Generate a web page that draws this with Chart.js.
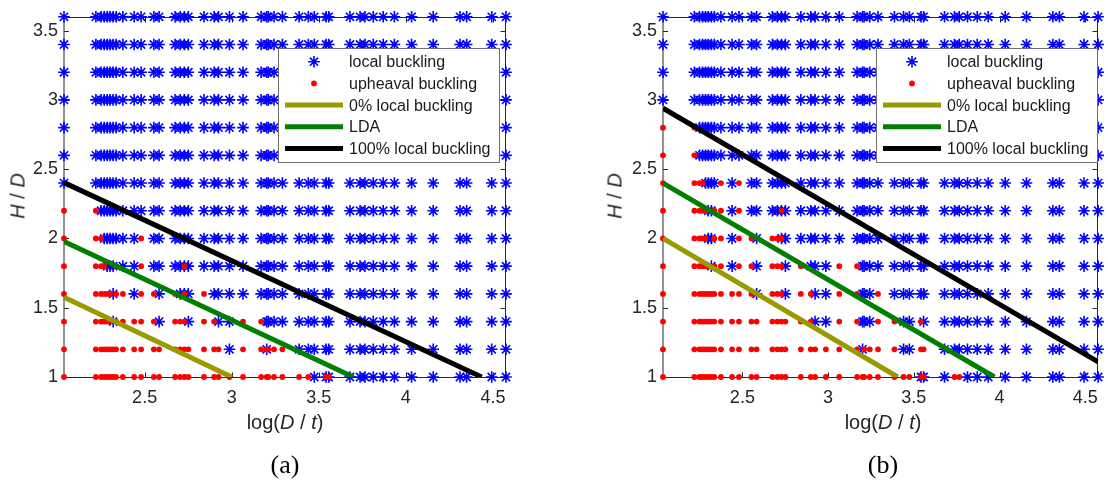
<!DOCTYPE html>
<html>
<head>
<meta charset="utf-8">
<script src="https://cdn.jsdelivr.net/npm/chart.js@4.4.1/dist/chart.umd.min.js"></script>
<style>
  html, body { margin: 0; padding: 0; background: #fff; }
  #wrap { position: relative; width: 1108px; height: 486px; overflow: hidden;
          font-family: "Liberation Sans", Arial, sans-serif; color: #262626; }
  canvas { position: absolute; top: 0; }
  #cA { left: 0; }
  #cB { left: 554px; }
  .ytitle { position: absolute; font-size: 20px; white-space: nowrap; transform: translate(-50%, -50%) rotate(-90deg); }
  .xtitle { position: absolute; font-size: 20px; white-space: nowrap; transform: translate(-50%, -50%); }
  .cap { position: absolute; font-family: "Liberation Serif", "Times New Roman", serif; font-size: 26px;
         color: #000; white-space: nowrap; transform: translate(-50%, -50%); }
</style>
</head>
<body>
<div id="wrap">
  <canvas id="cA" width="554" height="486"></canvas>
  <canvas id="cB" width="554" height="486"></canvas>
  <div class="ytitle" style="left:18px; top:196px;"><i>H</i> / <i>D</i></div>
  <div class="ytitle" style="left:615px; top:196px;"><i>H</i> / <i>D</i></div>
  <div class="xtitle" style="left:285px; top:422px;">log(<i>D</i> / <i>t</i>)</div>
  <div class="xtitle" style="left:883px; top:422px;">log(<i>D</i> / <i>t</i>)</div>
  <div class="cap" style="left:285px; top:465px;">(a)</div>
  <div class="cap" style="left:883px; top:465px;">(b)</div>
</div>
<script>
// log(D/t) of every case column (same set in both panels)
const xCols = [2.037, 2.220, 2.250, 2.268, 2.285, 2.301, 2.319, 2.336, 2.375, 2.440, 2.480,
               2.553, 2.583, 2.675, 2.704, 2.728, 2.751, 2.841, 2.899, 2.924, 2.987, 3.065,
               3.169, 3.201, 3.210, 3.243, 3.291, 3.387, 3.440, 3.474, 3.542, 3.557, 3.679,
               3.737, 3.765, 3.813, 3.870, 3.934, 4.033, 4.157, 4.311, 4.349, 4.493, 4.575];
// H/D levels, bottom to top
const hdLevels = [1.0, 1.2, 1.4, 1.6, 1.8, 2.0, 2.2, 2.4, 2.6, 2.8, 3.0, 3.2, 3.4, 3.6];

// failure mode per column: b = local buckling, r = upheaval buckling, x = both
// (columns grouped 11 at a time)
const modesA = [
  ["rrrrrrrrrrr", "rrrrrrrrrrr", "rrrrrrrbxxb", "bbbbbbbbbbb"], // 1.0
  ["rrrrrrrrrrr", "rrrrrrrrrbr", "rxrrrbbbbbb", "bbbbbbbbbbb"], // 1.2
  ["rrrrrrbrrrr", "rbrrrbrrbbr", "rbbbbbbbbbb", "bbbbbbbbbbb"], // 1.4
  ["rrrrrrbrrbr", "rbrbxbrbbbb", "bbbbbbbbbbb", "bbbbbbbbbbb"], // 1.6
  ["rrrrbbbrbbr", "bbbbxbbbbbb", "bbbbbbbbbbb", "bbbbbbbbbbb"], // 1.8
  ["rrrbbbbbbbr", "bbbbbbbbbbb", "bbbbbbbbbbb", "bbbbbbbbbbb"], // 2.0
  ["rrbbbbbbbbb", "bbbbbbbbbbb", "bbbbbbbbbbb", "bbbbbbbbbbb"], // 2.2
  ["bbbbbbbbbbb", "bbbbbbbbbbb", "bbbbbbbbbbb", "bbbbbbbbbbb"], // 2.4
  ["bbbbbbbbbbb", "bbbbbbbbbbb", "bbbbbbbbbbb", "bbbbbbbbbbb"], // 2.6
  ["bbbbbbbbbbb", "bbbbbbbbbbb", "bbbbbbbbbbb", "bbbbbbbbbbb"], // 2.8
  ["bbbbbbbbbbb", "bbbbbbbbbbb", "bbbbbbbbbbb", "bbbbbbbbbbb"], // 3.0
  ["bbbbbbbbbbb", "bbbbbbbbbbb", "bbbbbbbbbbb", "bbbbbbbbbbb"], // 3.2
  ["bbbbbbbbbbb", "bbbbbbbbbbb", "bbbbbbbbbbb", "bbbbbbbbbbb"], // 3.4
  ["bbbbbbbbbbb", "bbbbbbbbbbb", "bbbbbbbbbbb", "bbbbbbbbbbb"]  // 3.6
];
const modesB = [
  ["rrrrrrrrrrr", "rrrrrrrrrrr", "rrrrrrrrxxb", "rrbbbbbbbbb"], // 1.0
  ["rrrrrrrrrrr", "rrrrrrrrrrr", "rbrrrrbbrrb", "bbbbbbbbbbb"], // 1.2
  ["rrrrrrrrrrr", "rrrrrrrrbbr", "rbbbrrbbrbb", "bbbbbbbbbbb"], // 1.4
  ["rrrrrrrrrrr", "rbrrrbrrbbr", "rbbbrbbbbbb", "bbbbbbbbbbb"], // 1.6
  ["rrrrrrbrrbr", "rbrrrbrbbbr", "rbbbbbbbbbb", "bbbbbbbbbbb"], // 1.8
  ["rrrrrbbrrbr", "rbrrxbbbbbb", "bbbbbbbbbbb", "bbbbbbbbbbb"], // 2.0
  ["rrrrrbbrrbr", "bbbbxbbbbbb", "bbbbbbbbbbb", "bbbbbbbbbbb"], // 2.2
  ["rrrrbbbbrbr", "bbbbbbbbbbb", "bbbbbbbbbbb", "bbbbbbbbbbb"], // 2.4
  ["rrbbbbbbbbb", "bbbbbbbbbbb", "bbbbbbbbbbb", "bbbbbbbbbbb"], // 2.6
  ["rrbbbbbbbbb", "bbbbbbbbbbb", "bbbbbbbbbbb", "bbbbbbbbbbb"], // 2.8
  ["bbbbbbbbbbb", "bbbbbbbbbbb", "bbbbbbbbbbb", "bbbbbbbbbbb"], // 3.0
  ["bbbbbbbbbbb", "bbbbbbbbbbb", "bbbbbbbbbbb", "bbbbbbbbbbb"], // 3.2
  ["bbbbbbbbbbb", "bbbbbbbbbbb", "bbbbbbbbbbb", "bbbbbbbbbbb"], // 3.4
  ["bbbbbbbbbbb", "bbbbbbbbbbb", "bbbbbbbbbbb", "bbbbbbbbbbb"]  // 3.6
];

// boundary lines (end points)
const zeroLineA = [{x: 2.037, y: 1.576}, {x: 3.000, y: 1.0}];
const ldaLineA  = [{x: 2.037, y: 1.978}, {x: 3.698, y: 1.0}];
const fullLineA = [{x: 2.037, y: 2.403}, {x: 4.435, y: 1.0}];
const zeroLineB = [{x: 2.037, y: 2.000}, {x: 3.406, y: 1.0}];
const ldaLineB  = [{x: 2.037, y: 2.400}, {x: 3.970, y: 1.0}];
const fullLineB = [{x: 2.037, y: 2.940}, {x: 4.575, y: 1.11}];

const seriesLabels = ["local buckling", "upheaval buckling", "0% local buckling", "LDA", "100% local buckling"];
const xTicks = [2.5, 3, 3.5, 4, 4.5];
const yTicks = [1, 1.5, 2, 2.5, 3, 3.5];

const FONT = '"Liberation Sans", Arial, sans-serif';

function splitModes(modes) {
  var local = [], upheaval = [];
  modes.forEach(function (groups, r) {
    var row = groups.join("");
    for (var c = 0; c < row.length; c++) {
      var p = {x: xCols[c], y: hdLevels[r]};
      if (row[c] === "b" || row[c] === "x") local.push(p);
      if (row[c] === "r" || row[c] === "x") upheaval.push(p);
    }
  });
  return {local: local, upheaval: upheaval};
}

// box, inward ticks
var matlabAxes = {
  id: "matlabAxes",
  beforeDatasetsDraw: function (chart) {
    var ctx = chart.ctx, a = chart.chartArea, sx = chart.scales.x, sy = chart.scales.y;
    var L = a.left, R = Math.round(a.right) - 0.5, T = Math.round(a.top) + 0.5, B = Math.round(a.bottom) + 0.5;
    ctx.save();
    ctx.strokeStyle = "#262626";
    ctx.lineWidth = 1;
    ctx.beginPath();
    ctx.moveTo(L, T); ctx.lineTo(R, T); ctx.lineTo(R, B); ctx.lineTo(L, B); ctx.lineTo(L, T);
    xTicks.forEach(function (v) {
      var px = Math.round(sx.getPixelForValue(v)) + 0.5;
      ctx.moveTo(px, B); ctx.lineTo(px, B - 5);
      ctx.moveTo(px, T); ctx.lineTo(px, T + 5);
    });
    yTicks.forEach(function (v) {
      var py = Math.round(sy.getPixelForValue(v)) + 0.5;
      ctx.moveTo(L, py); ctx.lineTo(L + 5, py);
      ctx.moveTo(R, py); ctx.lineTo(R - 5, py);
    });
    ctx.stroke();
    ctx.restore();
  }
};

// legend box drawn inside the axes
var boxLegend = {
  id: "boxLegend",
  afterDatasetsDraw: function (chart, args, opts) {
    var ctx = chart.ctx;
    var bx = opts.x, by = opts.y, bw = opts.w, bh = opts.h;
    ctx.save();
    ctx.fillStyle = "#fff";
    ctx.fillRect(bx, by, bw, bh);
    ctx.strokeStyle = "#6e6e6e";
    ctx.lineWidth = 1;
    ctx.strokeRect(bx + 0.5, by + 0.5, bw, bh);
    chart.data.datasets.forEach(function (ds, i) {
      var cy = by + 13.7 + i * 21.7;
      if (ds.showLine) {
        ctx.strokeStyle = ds.borderColor;
        ctx.lineWidth = 5;
        ctx.beginPath();
        ctx.moveTo(bx + 7, cy); ctx.lineTo(bx + 65, cy);
        ctx.stroke();
      } else {
        ctx.strokeStyle = ds.borderColor;
        ctx.fillStyle = ds.backgroundColor;
        ctx.lineWidth = ds.pointBorderWidth;
        Chart.helpers.drawPoint(ctx, {pointStyle: ds.pointStyle, radius: ds.pointRadius,
          borderWidth: ds.pointBorderWidth, rotation: 0}, bx + 36, cy);
      }
      ctx.fillStyle = "#1a1a1a";
      ctx.font = "16px " + FONT;
      ctx.textAlign = "left";
      ctx.textBaseline = "middle";
      ctx.fillText(ds.label, bx + 71, cy + 1);
    });
    ctx.restore();
  }
};

function makeChart(id, modes, zeroLine, ldaLine, fullLine, yAxisWidth, padRight, legendBox) {
  var pts = splitModes(modes);
  return new Chart(document.getElementById(id).getContext("2d"), {
    type: "scatter",
    data: {
      datasets: [
        {label: seriesLabels[0], data: pts.local, pointStyle: "star", pointRadius: 5.8,
         pointBorderWidth: 1.6, borderColor: "#0000ff", backgroundColor: "#0000ff", order: 3, clip: false},
        {label: seriesLabels[1], data: pts.upheaval, pointStyle: "circle", pointRadius: 2.9,
         pointBorderWidth: 0, borderColor: "#ff0000", backgroundColor: "#ff0000", order: 2, clip: false},
        {label: seriesLabels[2], data: zeroLine, showLine: true, pointRadius: 0, borderWidth: 5,
         borderColor: "#999900", backgroundColor: "#999900", order: 0},
        {label: seriesLabels[3], data: ldaLine, showLine: true, pointRadius: 0, borderWidth: 5,
         borderColor: "#007f00", backgroundColor: "#007f00", order: 0},
        {label: seriesLabels[4], data: fullLine, showLine: true, pointRadius: 0, borderWidth: 5,
         borderColor: "#000000", backgroundColor: "#000000", order: 0}
      ]
    },
    options: {
      responsive: false,
      animation: false,
      events: [],
      layout: {padding: {left: 0, right: padRight, top: 15, bottom: 49}},
      scales: {
        x: {
          type: "linear", min: xCols[0], max: xCols[xCols.length - 1],
          afterBuildTicks: function (s) { s.ticks = xTicks.map(function (v) { return {value: v}; }); },
          afterFit: function (s) { s.height = 60; },
          grid: {display: false, drawTicks: false}, border: {display: false},
          ticks: {font: {family: FONT, size: 18}, color: "#262626", padding: 10, maxRotation: 0,
                  autoSkip: false, callback: function (v) { return String(v); }}
        },
        y: {
          type: "linear", min: 1, max: 3.6,
          afterBuildTicks: function (s) { s.ticks = yTicks.map(function (v) { return {value: v}; }); },
          afterFit: function (s) { s.width = yAxisWidth; },
          grid: {display: false, drawTicks: false}, border: {display: false},
          ticks: {font: {family: FONT, size: 18}, color: "#262626", padding: 6,
                  autoSkip: false, callback: function (v) { return String(v); }}
        }
      },
      plugins: {
        legend: {display: false},
        tooltip: {enabled: false},
        boxLegend: legendBox
      }
    },
    plugins: [matlabAxes, boxLegend]
  });
}

makeChart("cA", modesA, zeroLineA, ldaLineA, fullLineA, 64, 48, {x: 278, y: 48, w: 221, h: 114});
makeChart("cB", modesB, zeroLineB, ldaLineB, fullLineB, 109, 5, {x: 322, y: 48, w: 221, h: 114});
</script>
</body>
</html>
